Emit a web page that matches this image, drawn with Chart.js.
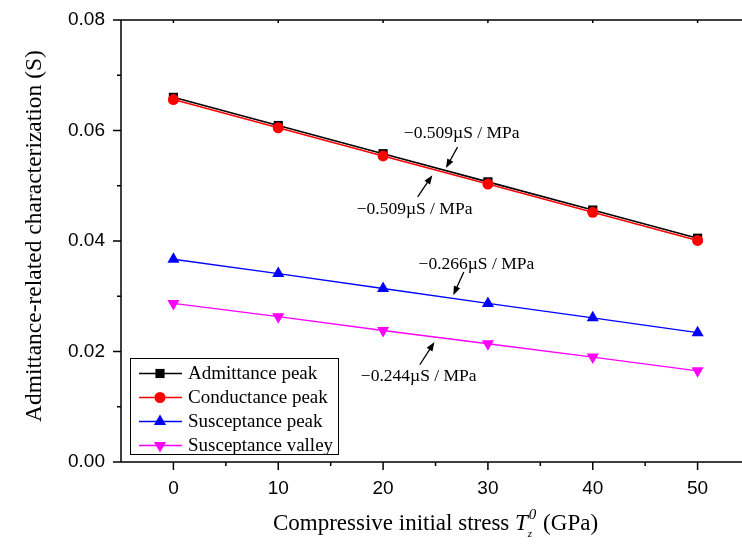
<!DOCTYPE html>
<html>
<head>
<meta charset="utf-8">
<script src="https://cdn.jsdelivr.net/npm/chart.js@4.4.1/dist/chart.umd.min.js"></script>
<style>
  html, body { margin: 0; padding: 0; background: #fff; overflow: hidden; }
  #wrap { width: 760px; height: 544px; }
</style>
</head>
<body>
<div id="wrap"><canvas id="chart" width="760" height="544"></canvas></div>
<script>
// values
const stress = [0, 10, 20, 30, 40, 50];
const admittancePeak = [0.0660, 0.0609, 0.0558, 0.0507, 0.0456, 0.0405];
const conductancePeak = [0.0656, 0.0605, 0.0554, 0.0503, 0.0452, 0.0401];
const susceptancePeak = [0.0367, 0.0341, 0.0314, 0.0287, 0.0261, 0.0234];
const susceptanceValley = [0.0287, 0.0263, 0.0238, 0.0214, 0.0190, 0.0165];
const seriesNames = ['Admittance peak', 'Conductance peak', 'Susceptance peak', 'Susceptance valley'];
const xTicks = [0, 10, 20, 30, 40, 50];
const yTicks = [0, 0.02, 0.04, 0.06, 0.08];

// slope notes: text anchor and arrow in data units
const notes = [
  { text: '\u22120.509\u00b5S / MPa', at: [27.5, 0.0594], from: [27.1, 0.0570], to: [26.0, 0.0532] },
  { text: '\u22120.509\u00b5S / MPa', at: [23.0, 0.0457], from: [23.3, 0.0480], to: [24.7, 0.0519] },
  { text: '\u22120.266\u00b5S / MPa', at: [28.9, 0.0358], from: [27.7, 0.0344], to: [26.7, 0.0302] },
  { text: '\u22120.244\u00b5S / MPa', at: [23.4, 0.0155], from: [23.5, 0.0176], to: [24.9, 0.0217] }
];

const serif = '"Liberation Serif", "Times New Roman", serif';
const sans = '"Liberation Sans", Arial, sans-serif';

function pts(ys) {
  return stress.map((x, i) => ({ x: x, y: ys[i] }));
}

const datasets = [
  { label: seriesNames[0], data: pts(admittancePeak), borderColor: '#000', backgroundColor: '#000',
    pointStyle: 'rect', pointRadius: 6.5, borderWidth: 1.6, order: 2 },
  { label: seriesNames[1], data: pts(conductancePeak), borderColor: '#ff0000', backgroundColor: '#ff0000',
    pointStyle: 'circle', pointRadius: 5.5, borderWidth: 1.6, order: 1 },
  { label: seriesNames[2], data: pts(susceptancePeak), borderColor: '#0000ff', backgroundColor: '#0000ff',
    pointStyle: 'triangle', pointRadius: 7, borderWidth: 1.3, order: 3 },
  { label: seriesNames[3], data: pts(susceptanceValley), borderColor: '#ff00ff', backgroundColor: '#ff00ff',
    pointStyle: 'triangle', pointRotation: 180, pointRadius: 7, borderWidth: 1.3, order: 4 }
];
datasets.forEach(d => { d.pointBorderWidth = 0; d.tension = 0; d.fill = false; });

function arrow(ctx, x1, y1, x2, y2) {
  const ang = Math.atan2(y2 - y1, x2 - x1);
  const head = 9, half = 3.4;
  ctx.beginPath();
  ctx.moveTo(x1, y1);
  ctx.lineTo(x2 - Math.cos(ang) * head * 0.8, y2 - Math.sin(ang) * head * 0.8);
  ctx.stroke();
  ctx.beginPath();
  ctx.moveTo(x2, y2);
  ctx.lineTo(x2 - Math.cos(ang) * head - Math.sin(ang) * half, y2 - Math.sin(ang) * head + Math.cos(ang) * half);
  ctx.lineTo(x2 - Math.cos(ang) * head + Math.sin(ang) * half, y2 - Math.sin(ang) * head - Math.cos(ang) * half);
  ctx.closePath();
  ctx.fill();
}

const frame = {
  id: 'frame',
  afterDraw(chart) {
    const ctx = chart.ctx, a = chart.chartArea;
    const xs = chart.scales.x, ys = chart.scales.y;
    ctx.save();
    ctx.strokeStyle = '#000';
    ctx.fillStyle = '#000';
    ctx.lineWidth = 1.5;

    // axes lines
    ctx.beginPath();
    ctx.moveTo(a.left, a.top); ctx.lineTo(a.right, a.top);
    ctx.moveTo(a.left, a.top); ctx.lineTo(a.left, a.bottom);
    ctx.moveTo(a.left, a.bottom); ctx.lineTo(a.right, a.bottom);
    ctx.stroke();

    // tick marks
    ctx.beginPath();
    xTicks.forEach(v => {
      const p = xs.getPixelForValue(v);
      ctx.moveTo(p, a.bottom); ctx.lineTo(p, a.bottom + 8);
      ctx.moveTo(p, a.top); ctx.lineTo(p, a.top + 3);
      const m = xs.getPixelForValue(v + 5);
      if (m < a.right) { ctx.moveTo(m, a.bottom); ctx.lineTo(m, a.bottom + 4); }
    });
    yTicks.forEach((v, i) => {
      const p = ys.getPixelForValue(v);
      ctx.moveTo(a.left, p); ctx.lineTo(a.left - 8, p);
      if (i < yTicks.length - 1) {
        const m = ys.getPixelForValue(v + 0.01);
        ctx.moveTo(a.left, m); ctx.lineTo(a.left - 4, m);
      }
    });
    ctx.stroke();

    // slope notes
    ctx.lineWidth = 1.3;
    ctx.font = '17.5px ' + serif;
    ctx.textAlign = 'center';
    ctx.textBaseline = 'middle';
    notes.forEach(n => {
      ctx.fillText(n.text, xs.getPixelForValue(n.at[0]), ys.getPixelForValue(n.at[1]));
      arrow(ctx, xs.getPixelForValue(n.from[0]), ys.getPixelForValue(n.from[1]),
        xs.getPixelForValue(n.to[0]), ys.getPixelForValue(n.to[1]));
    });

    // legend box
    const lx = a.left + 9, lw = 208, lh = 96, ly = a.bottom - 8 - lh;
    ctx.lineWidth = 1;
    ctx.strokeRect(lx + 0.5, ly + 0.5, lw, lh);
    ctx.font = '19px ' + serif;
    ctx.textAlign = 'left';
    chart.data.datasets.forEach((d, i) => {
      const cy = ly + 15.5 + i * 24;
      ctx.strokeStyle = d.borderColor;
      ctx.lineWidth = d.borderWidth;
      ctx.beginPath();
      ctx.moveTo(lx + 9, cy); ctx.lineTo(lx + 52, cy);
      ctx.stroke();
      ctx.fillStyle = d.backgroundColor;
      Chart.helpers.drawPoint(ctx, {
        pointStyle: d.pointStyle, radius: d.pointRadius, rotation: d.pointRotation || 0, borderWidth: 0
      }, lx + 30, cy);
      ctx.fillStyle = '#000';
      ctx.fillText(d.label, lx + 58, cy + 1);
    });

    // axis titles
    ctx.fillStyle = '#000';
    ctx.textBaseline = 'alphabetic';
    ctx.save();
    ctx.font = '23.5px ' + serif;
    ctx.translate(41, 236);
    ctx.rotate(-Math.PI / 2);
    ctx.textAlign = 'center';
    ctx.fillText('Admittance-related characterization (S)', 0, 0);
    ctx.restore();

    const part1 = 'Compressive initial stress ';
    const part3 = ' (GPa)';
    ctx.textAlign = 'left';
    ctx.font = '23px ' + serif;
    const w1 = ctx.measureText(part1).width;
    const w3 = ctx.measureText(part3).width;
    ctx.font = 'italic 23px ' + serif;
    const wT = ctx.measureText('T').width;
    ctx.font = 'italic 15px ' + serif;
    const wS = Math.max(ctx.measureText('0').width, ctx.measureText('z').width) + 2;
    const total = w1 + wT + wS + w3;
    let tx = (a.left + a.right) / 2 - total / 2;
    const by = 530;
    ctx.font = '23px ' + serif;
    ctx.fillText(part1, tx, by); tx += w1;
    ctx.font = 'italic 23px ' + serif;
    ctx.fillText('T', tx, by); tx += wT;
    ctx.font = 'italic 15px ' + serif;
    ctx.fillText('0', tx + 1, by - 11);
    ctx.font = 'italic 11px ' + serif;
    ctx.fillText('z', tx, by + 7);
    tx += wS;
    ctx.font = '23px ' + serif;
    ctx.fillText(part3, tx, by);
    ctx.restore();
  }
};

new Chart(document.getElementById('chart'), {
  type: 'line',
  data: { datasets: datasets },
  options: {
    responsive: false,
    animation: false,
    devicePixelRatio: 1,
    layout: { padding: { top: 20, right: 10, left: 0, bottom: 0 } },
    plugins: { legend: { display: false }, tooltip: { enabled: false } },
    scales: {
      x: {
        type: 'linear', min: -5, max: 55,
        afterFit: s => { s.height = 82; },
        afterBuildTicks: s => { s.ticks = xTicks.map(v => ({ value: v })); },
        grid: { display: false },
        border: { display: false },
        ticks: { color: '#000', font: { family: sans, size: 19 }, padding: 7, maxRotation: 0 }
      },
      y: {
        type: 'linear', min: 0, max: 0.08,
        afterFit: s => { s.width = 121; },
        afterBuildTicks: s => { s.ticks = yTicks.map(v => ({ value: v })); },
        grid: { display: false },
        border: { display: false },
        ticks: { color: '#000', font: { family: sans, size: 19 }, padding: 8,
          callback: v => v.toFixed(2) }
      }
    }
  },
  plugins: [frame]
});
</script>
</body>
</html>
